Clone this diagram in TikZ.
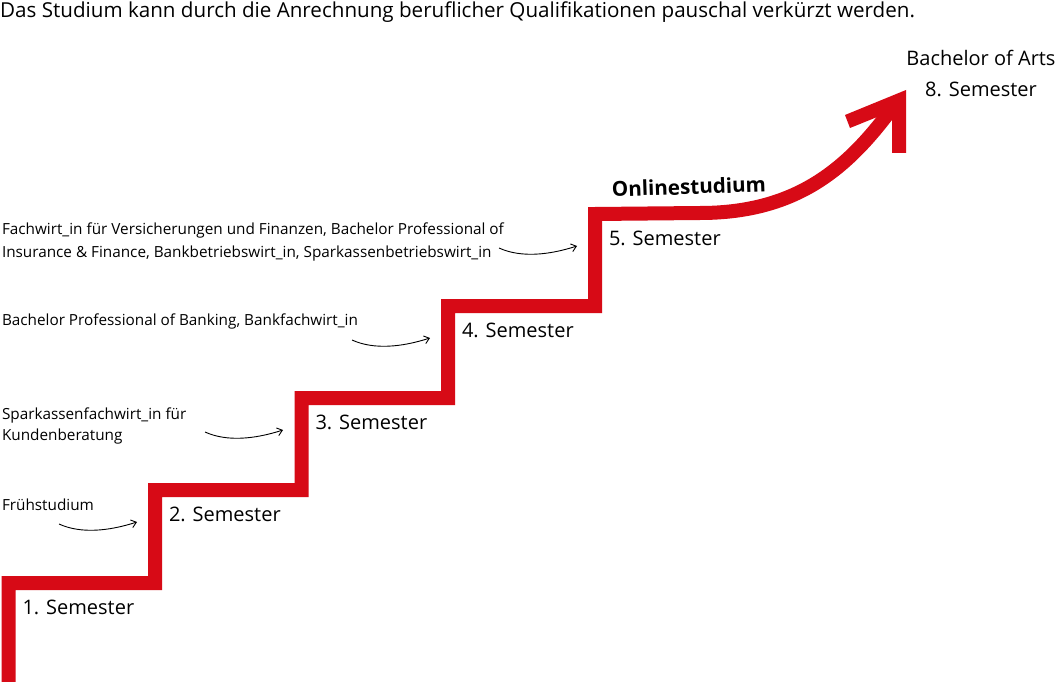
\documentclass[tikz,border=0pt]{standalone}
\usepackage{fontspec}
\setmainfont{Open Sans}
\usetikzlibrary{arrows.meta}
\definecolor{stairred}{RGB}{215,10,22}
\begin{document}
\begin{tikzpicture}[x=1pt,y=-1pt,
  stair/.style={draw=stairred, line width=14pt, line join=miter},
  semlabel/.style={anchor=base west, inner sep=0pt, outer sep=0pt, font=\fontsize{20}{24}\selectfont},
  qual/.style={anchor=base west, inner sep=0pt, outer sep=0pt, align=left, font=\fontsize{15.3}{23}\selectfont},
  hint/.style={draw=black, line width=0.9pt, -{Straight Barb[length=5pt,width=8pt]}},
]
\useasboundingbox (0,0) rectangle (1060,682);
\fill[white] (0,0) rectangle (1060,682);

% title
\node[anchor=base west, inner sep=0pt, font=\fontsize{20.6}{24}\selectfont] (title) at (0,18)
  {Das Studium kann durch die Anrechnung beruflicher Qualifikationen pauschal verkürzt werden.};

% stairs
\draw[stair] (8.5,690) -- (8.5,583) -- (155,583) -- (155,490) -- (301.5,490) -- (301.5,398)
  -- (448,398) -- (448,306) -- (595,306) -- (595,214) -- (700,213)
  .. controls (800,213) and (850,165) .. (893,107);
\fill[stairred] (906,90) -- (845,115) -- (850,128) -- (892,111) -- (892,153) -- (906,153) -- cycle;

% semester labels
\node[semlabel] (s1) at (22.5,614) {1. Semester};
\node[semlabel] (s2) at (169,521) {2. Semester};
\node[semlabel] (s3) at (315.5,429) {3. Semester};
\node[semlabel] (s4) at (462,337) {4. Semester};
\node[semlabel] (s5) at (609,245) {5. Semester};
\node[anchor=base, inner sep=0pt, align=center, font=\fontsize{20}{31}\selectfont] (s8) at (981,97)
  {Bachelor of Arts\\8. Semester};
\node[anchor=base west, inner sep=0pt, rotate=2, font=\bfseries\fontsize{20.6}{24}\selectfont] (online) at (612,197) {Onlinestudium};

% qualification labels
\node[qual] (q5) at (2,257) {Fachwirt\_in für Versicherungen und Finanzen, Bachelor Professional of\\Insurance \& Finance, Bankbetriebswirt\_in, Sparkassenbetriebswirt\_in};
\node[qual] (q4) at (2,325) {Bachelor Professional of Banking, Bankfachwirt\_in};
\node[qual, font=\fontsize{15.3}{20.5}\selectfont] (q3) at (2,440) {Sparkassenfachwirt\_in für\\Kundenberatung};
\node[qual] (q2) at (2,510) {Frühstudium};

% hint arrows
\coordinate (h2s) at (59,524);   \coordinate (h2e) at (137,522);
\coordinate (h3s) at (205,432);  \coordinate (h3e) at (283,430);
\coordinate (h4s) at (352,340);  \coordinate (h4e) at (430,338);
\coordinate (h5s) at (499,248);  \coordinate (h5e) at (577,246);
\foreach \k in {2,3,4,5}{
  \draw[hint] (h\k s) .. controls +(22,10) and +(-28,9) .. (h\k e);
}
\end{tikzpicture}
\end{document}
